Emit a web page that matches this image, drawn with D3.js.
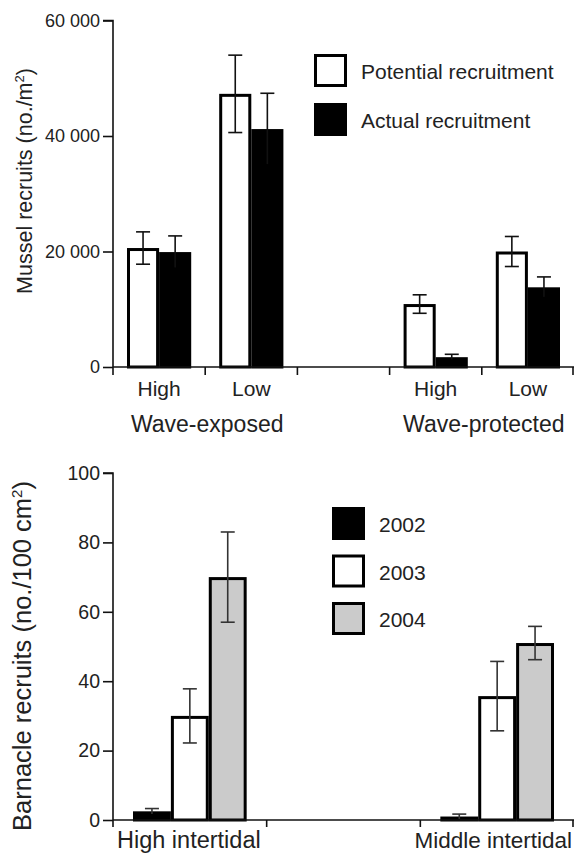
<!DOCTYPE html>
<html>
<head>
<meta charset="utf-8">
<script src="https://cdn.jsdelivr.net/npm/d3@7"></script>
<style>
  html, body { margin: 0; padding: 0; background: #fff; }
  svg { display: block; font-family: "Liberation Sans", Arial, Helvetica, sans-serif; }
</style>
</head>
<body>
<svg id="chart" width="574" height="854"></svg>
<script>
// ---------- Data: top panel (mussels) ----------
const musselSites = ["Wave-exposed", "Wave-protected"];
const musselZones = ["High", "Low"];
const musselSeries = ["Potential recruitment", "Actual recruitment"];
const musselPotential = [20600, 47300, 10900, 20000];
const musselPotentialErr = [2800, 6700, 1600, 2600];
const musselActual = [19900, 41200, 1700, 13800];
const musselActualErr = [2800, 6200, 500, 1800];
const musselTicks = [0, 20000, 40000, 60000];
const musselTickLabels = ["0", "20 000", "40 000", "60 000"];

// ---------- Data: bottom panel (barnacles) ----------
const barnacleZones = ["High intertidal", "Middle intertidal"];
const barnacleYears = ["2002", "2003", "2004"];
const barnacleHigh = [2.5, 30, 70];
const barnacleHighErr = [0.8, 7.8, 13];
const barnacleMiddle = [1.0, 35.7, 51];
const barnacleMiddleErr = [0.7, 10, 4.8];
const barnacleTicks = [0, 20, 40, 60, 80, 100];

const svg = d3.select("#chart");
const ink = "#111";

// ================= TOP PANEL =================
(function () {
  const left = 113, right = 574, top = 20.5, bottom = 367;
  const slots = [
    musselSites[0] + "|" + musselZones[0],
    musselSites[0] + "|" + musselZones[1],
    "gap",
    musselSites[1] + "|" + musselZones[0],
    musselSites[1] + "|" + musselZones[1]
  ];
  const cats = [slots[0], slots[1], slots[3], slots[4]];
  const x0 = d3.scaleBand().domain(slots).range([left, right]).padding(0);
  const x1 = d3.scaleBand().domain(musselSeries).range([14, x0.bandwidth() - 14]).padding(0);
  const y = d3.scaleLinear().domain([0, 60000]).range([bottom, top]);

  const rows = [];
  cats.forEach((c, i) => {
    rows.push({ cat: c, s: musselSeries[0], v: musselPotential[i], e: musselPotentialErr[i], fill: "#fff" });
    rows.push({ cat: c, s: musselSeries[1], v: musselActual[i], e: musselActualErr[i], fill: "#000" });
  });

  const g = svg.append("g");

  g.selectAll("rect.bar").data(rows).join("rect")
    .attr("class", "bar")
    .attr("x", d => x0(d.cat) + x1(d.s) + 1.5)
    .attr("width", x1.bandwidth() - 3)
    .attr("y", d => y(d.v) + 1.5)
    .attr("height", d => Math.max(0, y(0) - y(d.v) - 1.5))
    .attr("fill", d => d.fill)
    .attr("stroke", "#000")
    .attr("stroke-width", 3);

  const cap = 7;
  const eg = g.selectAll("g.err").data(rows).join("g").attr("class", "err")
    .attr("transform", d => `translate(${x0(d.cat) + x1(d.s) + x1.bandwidth() / 2},0)`);
  eg.append("line").attr("x1", 0).attr("x2", 0)
    .attr("y1", d => y(d.v + d.e)).attr("y2", d => y(d.v - d.e))
    .attr("stroke", ink).attr("stroke-width", 1.6);
  eg.append("line").attr("x1", -cap).attr("x2", cap)
    .attr("y1", d => y(d.v + d.e)).attr("y2", d => y(d.v + d.e))
    .attr("stroke", ink).attr("stroke-width", 1.6);
  eg.append("line").attr("x1", -cap).attr("x2", cap)
    .attr("y1", d => y(d.v - d.e)).attr("y2", d => y(d.v - d.e))
    .attr("stroke", d => d.fill === "#000" ? "#000" : ink).attr("stroke-width", 1.6);

  const yAxis = d3.axisLeft(y).tickValues(musselTicks)
    .tickFormat((d, i) => musselTickLabels[i]).tickSize(10).tickPadding(3);
  const ya = g.append("g").attr("transform", `translate(${left},0)`).call(yAxis);
  ya.select(".domain").attr("stroke", ink).attr("stroke-width", 1.6).attr("d", `M-10,${top}H0V${bottom}`);
  ya.selectAll(".tick line").attr("stroke", ink).attr("stroke-width", 1.6);
  ya.selectAll(".tick text").attr("font-size", 18).attr("fill", "#222")
    .attr("font-family", "Liberation Sans, Arial, sans-serif");

  const boundaries = slots.map(s => x0(s)).concat([right - 1]);
  g.append("line").attr("x1", left).attr("x2", right).attr("y1", bottom).attr("y2", bottom)
    .attr("stroke", ink).attr("stroke-width", 1.6);
  g.selectAll("line.xt").data(boundaries).join("line").attr("class", "xt")
    .attr("x1", d => d).attr("x2", d => d).attr("y1", bottom).attr("y2", bottom + 8)
    .attr("stroke", ink).attr("stroke-width", 1.6);

  g.selectAll("text.zone").data(cats).join("text").attr("class", "zone")
    .attr("x", d => x0(d) + x0.bandwidth() / 2)
    .attr("y", 396)
    .attr("text-anchor", "middle")
    .attr("font-size", 21).attr("fill", "#222")
    .text(d => d.split("|")[1]);

  musselSites.forEach((site) => {
    const a = x0(site + "|" + musselZones[0]) + x0.bandwidth() / 2;
    const b = x0(site + "|" + musselZones[1]) + x0.bandwidth() / 2;
    g.append("text").attr("x", (a + b) / 2 + 2).attr("y", 432)
      .attr("text-anchor", "middle").attr("font-size", 23).attr("fill", "#222")
      .text(site);
  });

  const t = g.append("text")
    .attr("transform", "translate(32,181) rotate(-90)")
    .attr("text-anchor", "middle").attr("font-size", 21.5).attr("fill", "#222");
  t.append("tspan").text("Mussel recruits (no./m");
  t.append("tspan").attr("font-size", 13).attr("dy", -8).text("2");
  t.append("tspan").attr("dy", 8).text(")");

  const lg = g.append("g");
  const legFill = ["#fff", "#000"];
  musselSeries.forEach((s, i) => {
    const yy = 54 + i * 49;
    lg.append("rect").attr("x", 315.5).attr("y", yy + 1.5).attr("width", 30).attr("height", 30)
      .attr("fill", legFill[i]).attr("stroke", "#000").attr("stroke-width", 3);
    lg.append("text").attr("x", 361).attr("y", yy + 25).attr("font-size", 21).attr("fill", "#222").text(s);
  });
})();

// ================= BOTTOM PANEL =================
(function () {
  const left = 113, right = 574, top = 473, bottom = 820;
  const slots = [barnacleZones[0], "gap", barnacleZones[1]];
  const x0 = d3.scaleBand().domain(slots).range([left, right]).padding(0);
  const x1 = d3.scaleBand().domain(barnacleYears).range([20, x0.bandwidth() - 20]).padding(0);
  const y = d3.scaleLinear().domain([0, 100]).range([bottom, top]);
  const fills = ["#000", "#fff", "#cbcbcb"];

  const rows = [];
  barnacleYears.forEach((yr, i) => {
    rows.push({ cat: barnacleZones[0], s: yr, v: barnacleHigh[i], e: barnacleHighErr[i], fill: fills[i] });
    rows.push({ cat: barnacleZones[1], s: yr, v: barnacleMiddle[i], e: barnacleMiddleErr[i], fill: fills[i] });
  });

  const g = svg.append("g");

  g.selectAll("rect.bar").data(rows).join("rect")
    .attr("class", "bar")
    .attr("x", d => x0(d.cat) + x1(d.s) + 1.5)
    .attr("width", x1.bandwidth() - 3)
    .attr("y", d => y(d.v) + 1.5)
    .attr("height", d => Math.max(0, y(0) - y(d.v) - 1.5))
    .attr("fill", d => d.fill)
    .attr("stroke", "#000")
    .attr("stroke-width", 3);

  const cap = 7;
  const eg = g.selectAll("g.err").data(rows).join("g").attr("class", "err")
    .attr("transform", d => `translate(${x0(d.cat) + x1(d.s) + x1.bandwidth() / 2},0)`);
  eg.append("line").attr("x1", 0).attr("x2", 0)
    .attr("y1", d => y(d.v + d.e)).attr("y2", d => y(Math.max(0, d.v - d.e)))
    .attr("stroke", "#333").attr("stroke-width", 1.6);
  eg.append("line").attr("x1", -cap).attr("x2", cap)
    .attr("y1", d => y(d.v + d.e)).attr("y2", d => y(d.v + d.e))
    .attr("stroke", "#333").attr("stroke-width", 1.6);
  eg.filter(d => d.v - d.e > 3).append("line").attr("x1", -cap).attr("x2", cap)
    .attr("y1", d => y(d.v - d.e)).attr("y2", d => y(d.v - d.e))
    .attr("stroke", "#333").attr("stroke-width", 1.6);

  const yAxis = d3.axisLeft(y).tickValues(barnacleTicks).tickSize(10).tickPadding(3);
  const ya = g.append("g").attr("transform", `translate(${left},0)`).call(yAxis);
  ya.select(".domain").attr("stroke", ink).attr("stroke-width", 1.6).attr("d", `M-10,${top}H0V${bottom}`);
  ya.selectAll(".tick line").attr("stroke", ink).attr("stroke-width", 1.6);
  ya.selectAll(".tick text").attr("font-size", 19.5).attr("fill", "#222")
    .attr("font-family", "Liberation Sans, Arial, sans-serif");

  const boundaries = slots.map(s => x0(s)).concat([right - 1]);
  g.append("line").attr("x1", left).attr("x2", right).attr("y1", bottom).attr("y2", bottom)
    .attr("stroke", ink).attr("stroke-width", 1.6);
  g.selectAll("line.xt").data(boundaries).join("line").attr("class", "xt")
    .attr("x1", d => d).attr("x2", d => d).attr("y1", bottom).attr("y2", bottom + 7)
    .attr("stroke", ink).attr("stroke-width", 1.6);

  g.append("text").attr("x", x0(barnacleZones[0]) + x0.bandwidth() / 2 - 1).attr("y", 848)
    .attr("text-anchor", "middle").attr("font-size", 23.5).attr("fill", "#222").text(barnacleZones[0]);
  g.append("text").attr("x", 572).attr("y", 848)
    .attr("text-anchor", "end").attr("font-size", 22.5).attr("fill", "#222").text(barnacleZones[1]);

  const t = g.append("text")
    .attr("transform", "translate(31,656) rotate(-90)")
    .attr("text-anchor", "middle").attr("font-size", 25.5).attr("fill", "#222");
  t.append("tspan").text("Barnacle recruits (no./100 cm");
  t.append("tspan").attr("font-size", 15).attr("dy", -9).text("2");
  t.append("tspan").attr("dy", 9).text(")");

  const lg = g.append("g");
  barnacleYears.forEach((yr, i) => {
    const yy = 507 + i * 47.5;
    lg.append("rect").attr("x", 333.5).attr("y", yy + 1.5).attr("width", 30).attr("height", 30)
      .attr("fill", fills[i]).attr("stroke", "#000").attr("stroke-width", 3);
    lg.append("text").attr("x", 379).attr("y", yy + 25).attr("font-size", 21).attr("fill", "#222").text(yr);
  });
})();
</script>
</body>
</html>
